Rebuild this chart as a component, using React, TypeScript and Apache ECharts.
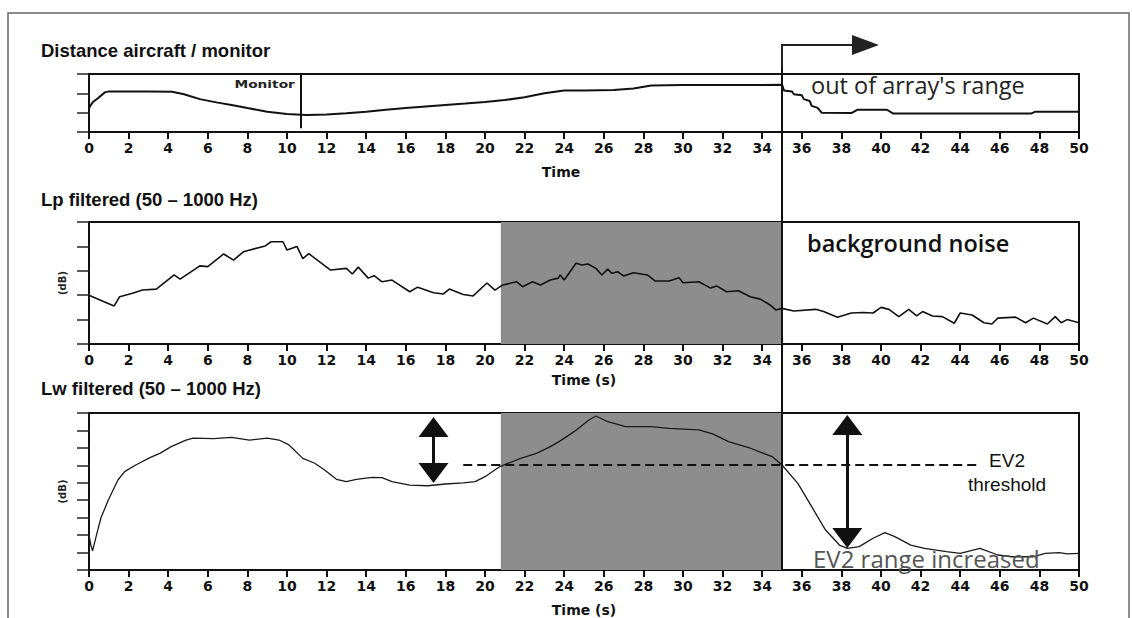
import React, { useEffect, useRef } from "react";
import * as echarts from "echarts";

// ---------- data ----------
const distT = [0, 0.2, 0.45, 0.8, 1.0, 2.0, 3.0, 4.2, 4.8, 5.6, 6.5, 7.2, 8.0, 9.0, 10.0, 11.0, 12.0, 13.0, 14.0, 15.0, 16.0, 17.0, 18.0, 19.0, 20.0, 21.0, 22.0, 23.0, 24.0, 25.0, 26.5, 27.5, 28.4, 30.0, 32.0, 34.0, 35.0, 35.1, 35.5, 35.6, 36.0, 36.1, 36.4, 36.5, 36.8, 37.0, 38.5, 38.8, 40.3, 40.6, 47.6, 47.8, 50.0];
const distV = [1.25, 1.55, 1.75, 2.05, 2.1, 2.1, 2.1, 2.08, 1.95, 1.7, 1.52, 1.4, 1.24, 1.05, 0.93, 0.88, 0.9, 0.97, 1.05, 1.15, 1.24, 1.32, 1.4, 1.47, 1.55, 1.65, 1.8, 2.0, 2.15, 2.15, 2.17, 2.25, 2.4, 2.43, 2.43, 2.43, 2.45, 2.15, 2.1, 1.95, 1.9, 1.7, 1.6, 1.35, 1.25, 1.0, 0.98, 1.15, 1.15, 0.96, 0.96, 1.05, 1.05];

const lpT = [0, 0.7, 1.27, 1.55, 2.2, 2.7, 3.4, 4.3, 4.6, 5.6, 6.0, 6.8, 7.3, 7.8, 8.9, 9.2, 9.8, 10.0, 10.5, 10.8, 11.1, 12.2, 13.0, 13.3, 13.6, 14.1, 14.4, 14.8, 15.3, 16.2, 16.6, 17.4, 17.9, 18.2, 18.9, 19.4, 20.1, 20.5, 20.9, 21.6, 21.9, 22.4, 22.8, 23.3, 23.7, 23.8, 24.0, 24.6, 24.9, 25.2, 25.6, 25.9, 26.2, 26.4, 26.7, 27.0, 27.5, 28.2, 28.6, 29.3, 29.8, 30.0, 30.8, 31.4, 31.7, 32.2, 32.8, 33.4, 33.9, 34.4, 34.7, 35.0, 35.6, 36.7, 37.1, 37.8, 38.5, 39.1, 39.6, 40.0, 40.4, 40.9, 41.4, 41.8, 42.1, 42.6, 43.1, 43.7, 44.0, 44.6, 45.2, 45.6, 45.9, 46.8, 47.3, 47.7, 48.4, 48.8, 49.1, 49.4, 50.0];
const lpV = [2.0, 1.75, 1.56, 1.94, 2.08, 2.21, 2.25, 2.83, 2.66, 3.2, 3.17, 3.69, 3.44, 3.78, 4.02, 4.19, 4.19, 3.85, 4.0, 3.5, 3.7, 3.03, 3.1, 2.87, 3.15, 2.7, 2.8, 2.55, 2.62, 2.14, 2.33, 2.1, 2.05, 2.25, 2.03, 1.97, 2.5, 2.21, 2.42, 2.55, 2.35, 2.55, 2.42, 2.62, 2.7, 2.83, 2.62, 3.31, 3.24, 3.28, 3.1, 2.83, 3.07, 2.9, 2.96, 2.79, 2.92, 2.83, 2.58, 2.58, 2.72, 2.51, 2.55, 2.29, 2.38, 2.14, 2.18, 1.94, 1.84, 1.6, 1.39, 1.46, 1.35, 1.42, 1.33, 1.1, 1.27, 1.29, 1.27, 1.5, 1.42, 1.12, 1.42, 1.15, 1.33, 1.15, 1.12, 0.85, 1.27, 1.19, 0.87, 0.82, 1.06, 1.1, 0.87, 1.06, 0.82, 1.12, 0.87, 1.0, 0.87];

const lwT = [0, 0.1, 0.18, 0.39, 0.6, 0.97, 1.46, 1.8, 2.36, 3.08, 3.6, 4.15, 4.9, 5.25, 6.3, 7.2, 8.1, 9.0, 9.6, 10.1, 10.8, 11.4, 11.9, 12.5, 13.0, 13.5, 14.3, 14.8, 15.3, 16.2, 17.1, 18.0, 18.9, 19.5, 20.0, 20.75, 21.8, 22.6, 23.3, 23.8, 24.5, 25.25, 25.6, 26.2, 27.1, 28.4, 29.3, 30.8, 31.5, 32.3, 33.4, 34.5, 35.0, 35.8, 36.5, 37.2, 37.9, 38.3, 38.9, 39.6, 40.2, 40.7, 41.5, 42.2, 43.3, 44.0, 45.0, 45.9, 46.6, 47.7, 48.3, 49.0, 49.4, 50.0];
const lwV = [2.0, 1.4, 1.1, 2.06, 2.98, 4.0, 5.16, 5.64, 6.02, 6.44, 6.7, 7.07, 7.45, 7.56, 7.53, 7.6, 7.45, 7.56, 7.45, 7.17, 6.4, 6.12, 5.73, 5.2, 5.07, 5.2, 5.31, 5.3, 5.07, 4.87, 4.83, 4.93, 5.0, 5.07, 5.35, 5.93, 6.4, 6.69, 7.07, 7.4, 7.93, 8.6, 8.83, 8.5, 8.22, 8.22, 8.12, 8.03, 7.8, 7.36, 6.98, 6.5, 6.02, 4.97, 3.63, 2.29, 1.43, 1.24, 1.34, 1.82, 2.14, 1.91, 1.43, 1.24, 1.05, 0.95, 1.24, 0.86, 0.76, 0.76, 0.95, 1.0, 0.92, 0.95];

const xMin = 0;
const xMax = 50;
const xStep = 2;
const distYMax = 3;
const lpYMax = 5;
const lwYMax = 9;

const shadeStart = 20.8;
const shadeEnd = 35;
const cutoffT = 35;
const monitorT = 10.7;
const monitorFrom = 3;
const monitorTo = 0.2;
const thresholdV = 6.02;
const thresholdStart = 18.9;
const thresholdEnd = 44.9;
const arrowLeft = { t: 17.4, lo: 5.56, hi: 8.2 };
const arrowRight = { t: 38.3, lo: 1.83, hi: 8.31 };

const titles = ["Distance aircraft / monitor", "Lp filtered (50 – 1000 Hz)", "Lw filtered (50 – 1000 Hz)"];
const xNames = ["Time", "Time (s)", "Time (s)"];
const yName = "(dB)";

const zip = (a: number[], b: number[]) => a.map((v, i) => [v, b[i]]);

const INK = "#111";
const labelFont = { fontFamily: "DejaVu Sans", fontWeight: "bold" as const, fontSize: 14, color: INK };

function xAxisFor(i: number) {
  return {
    gridIndex: i,
    type: "value",
    min: xMin,
    max: xMax,
    interval: xStep,
    axisLine: { show: true, onZero: false, lineStyle: { color: INK, width: 2 } },
    axisTick: { show: true, length: 7, lineStyle: { color: INK, width: 2 } },
    axisLabel: { ...labelFont, margin: 9 },
    splitLine: { show: false },
    name: xNames[i],
    nameLocation: "middle",
    nameGap: i === 1 ? 29 : 33,
    nameTextStyle: {
      fontFamily: "DejaVu Sans",
      fontWeight: "bold",
      fontSize: 14,
      color: INK,
      padding: i === 0 ? [0, 46, 0, 0] : [0, 0, 0, 0],
    },
  };
}

function yAxisFor(i: number, max: number, withName: boolean) {
  return {
    gridIndex: i,
    type: "value",
    min: 0,
    max,
    interval: 1,
    axisLine: { show: true, onZero: false, lineStyle: { color: INK, width: 2 } },
    axisTick: { show: true, length: 12, lineStyle: { color: "#222", width: 1.5 } },
    axisLabel: { show: false },
    splitLine: { show: false },
    name: withName ? yName : "",
    nameLocation: "middle",
    nameRotate: 90,
    nameGap: 22,
    nameTextStyle: { fontFamily: "DejaVu Sans", fontWeight: "bold", fontSize: 10, color: "#222" },
  };
}

const shadeArea = {
  silent: true,
  itemStyle: { color: "#8d8d8d" },
  data: [[{ xAxis: shadeStart }, { xAxis: shadeEnd }]],
};

const arrowItem = (a: { t: number; lo: number; hi: number }) => [
  { coord: [a.t, a.lo], symbol: "triangle", symbolSize: [30, 20], lineStyle: { color: INK, width: 3, type: "solid" }, itemStyle: { color: INK } },
  { coord: [a.t, a.hi], symbol: "triangle", symbolSize: [30, 20] },
];

export default function App() {
  const ref = useRef<HTMLDivElement>(null);
  useEffect(() => {
    if (!ref.current) return;
    const chart = echarts.init(ref.current, undefined, { renderer: "svg" });
    const gridBase = { left: 89, width: 990, show: true, borderColor: INK, borderWidth: 2, backgroundColor: "transparent" };
    const option: any = {
      animation: false,
      backgroundColor: "#fff",
      grid: [
        { ...gridBase, top: 74, height: 58 },
        { ...gridBase, top: 222, height: 122 },
        { ...gridBase, top: 413, height: 157 },
      ],
      xAxis: [xAxisFor(0), xAxisFor(1), xAxisFor(2)],
      yAxis: [yAxisFor(0, distYMax, false), yAxisFor(1, lpYMax, true), yAxisFor(2, lwYMax, true)],
      series: [
        {
          type: "line",
          xAxisIndex: 0,
          yAxisIndex: 0,
          data: zip(distT, distV),
          showSymbol: false,
          lineStyle: { color: INK, width: 2 },
          silent: true,
          markLine: {
            silent: true,
            symbol: "none",
            label: { show: false },
            lineStyle: { color: INK, width: 2, type: "solid" },
            data: [[{ coord: [monitorT, monitorFrom] }, { coord: [monitorT, monitorTo] }]],
          },
        },
        {
          type: "line",
          xAxisIndex: 1,
          yAxisIndex: 1,
          data: zip(lpT, lpV),
          showSymbol: false,
          lineStyle: { color: INK, width: 1.6 },
          silent: true,
          markArea: shadeArea,
        },
        {
          type: "line",
          xAxisIndex: 2,
          yAxisIndex: 2,
          data: zip(lwT, lwV),
          showSymbol: false,
          lineStyle: { color: "#1a1a1a", width: 1.3 },
          silent: true,
          markArea: shadeArea,
          markLine: {
            silent: true,
            label: { show: false },
            emphasis: { disabled: true },
            data: [
              [
                { coord: [thresholdStart, thresholdV], symbol: "none", lineStyle: { color: INK, width: 2, type: [9, 5] } },
                { coord: [thresholdEnd, thresholdV], symbol: "none" },
              ],
              arrowItem(arrowLeft),
              arrowItem(arrowRight),
            ],
          },
        },
      ],
    };
    chart.setOption(option);

    const xCut = chart.convertToPixel({ xAxisIndex: 0 }, cutoffT) as number;
    const xMon = chart.convertToPixel({ xAxisIndex: 0 }, monitorT) as number;
    const yTopBox = chart.convertToPixel({ yAxisIndex: 0 }, distYMax) as number;
    const yBottom = chart.convertToPixel({ yAxisIndex: 2 }, 0) as number;
    const yRise = yTopBox - 29;

    const titleStyle = { fontFamily: "Liberation Sans", fontWeight: "bold", fontSize: 18.5, fill: INK };
    const annot = (text: string, x: number, y: number, extra: any = {}) => ({
      type: "text",
      x,
      y,
      z: 20,
      style: { text, fill: "#222", fontFamily: "Open Sans", fontSize: 23.5, verticalAlign: "middle", ...extra },
    });

    chart.setOption({
      graphic: [
        {
          type: "polyline",
          z: 1,
          shape: { points: [[8, 640], [8, 13], [1129, 13], [1129, 640]] },
          style: { stroke: "#666", lineWidth: 1.5, fill: "none" },
        },
        { type: "text", x: 41, y: 50, z: 20, style: { ...titleStyle, text: titles[0], verticalAlign: "middle" } },
        { type: "text", x: 41, y: 199, z: 20, style: { ...titleStyle, text: titles[1], verticalAlign: "middle" } },
        { type: "text", x: 41, y: 388, z: 20, style: { ...titleStyle, text: titles[2], verticalAlign: "middle" } },
        {
          type: "line",
          z: 20,
          shape: { x1: xCut, y1: yTopBox - 6, x2: xCut, y2: yBottom },
          style: { stroke: INK, lineWidth: 2 },
        },
        {
          type: "polyline",
          z: 20,
          shape: { points: [[xCut, yTopBox - 6], [xCut, yRise], [xCut + 72, yRise]] },
          style: { stroke: "#222", lineWidth: 2, fill: "none" },
        },
        {
          type: "polygon",
          z: 20,
          shape: { points: [[xCut + 70, yRise - 10], [xCut + 97, yRise], [xCut + 70, yRise + 10]] },
          style: { fill: "#222" },
        },
        {
          type: "text",
          x: xMon - 6,
          y: 84,
          z: 20,
          scaleX: 1.25,
          originX: 0,
          originY: 0,
          style: { text: "Monitor", fill: "#222", fontFamily: "DejaVu Sans", fontWeight: "bold", fontSize: 11, align: "right", verticalAlign: "middle" },
        },
        annot("out of array's range", xCut + 29, 85),
        annot("background noise", xCut + 25, 243, { fontWeight: 600, fill: "#111" }),
        annot("EV2 range increased", xCut + 31, 558, { fill: "#555", fontSize: 24 }),
        annot("EV2", 1007, 460, { fontFamily: "Liberation Sans", fontSize: 19, align: "center", fill: "#111" }),
        annot("threshold", 1007, 484, { fontFamily: "Liberation Sans", fontSize: 19, align: "center", fill: "#111" }),
      ],
    });

    return () => chart.dispose();
  }, []);

  return <div ref={ref} style={{ position: "fixed", left: 0, top: 0, width: 1132, height: 618 }} />;
}
